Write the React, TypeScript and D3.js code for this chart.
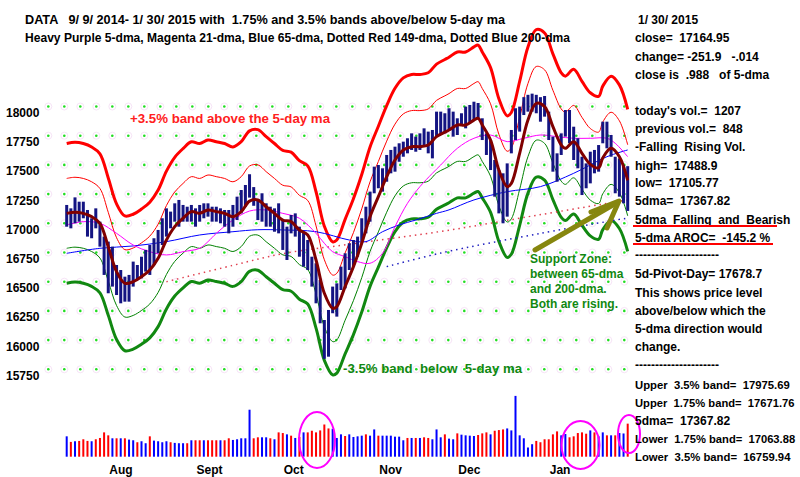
import React from 'react';
import * as d3 from 'd3';

// Daily high / low of the DJIA, 18 Jul 2014 .. 30 Jan 2015 (136 trading days)
const highs = [
  17157, 17128, 17222, 17185, 17185, 17114, 17043, 17128, 17014, 16886,
  16843, 16800, 16643, 16600, 16543, 16558, 16672, 16643, 16714, 16772,
  16814, 16872, 16943, 17043, 17128, 17100, 17171, 17200, 17157, 17142,
  17157, 17128, 17157, 17171, 17171, 17142, 17142, 17128, 17114, 17114,
  17157, 17228, 17285, 17328, 17420, 17310, 17200, 17257, 17171, 17142,
  17128, 17171, 17028, 16971, 17071, 17085, 16971, 16928, 16857, 16714,
  16658, 16515, 16172, 16258, 16458, 16486, 16629, 16743, 16829, 16857,
  16886, 17043, 17142, 17271, 17485, 17499, 17471, 17585, 17628, 17656,
  17685, 17699, 17728, 17770, 17742, 17770, 17813, 17785, 17799, 17956,
  17956, 17942, 17985, 17956, 17899, 17942, 17999, 18013, 18041, 18030,
  17899, 17770, 17713, 17542, 17456, 17428, 17513, 17799, 17985, 17999,
  18080, 18100, 18110, 18100, 18080, 18090, 17956, 17742, 17599, 17770,
  17970, 17970, 17827, 17728, 17570, 17513, 17613, 17628, 17670, 17870,
  17870, 17756, 17570, 17556, 17499, 17489,
];
const lows = [
  16971, 16957, 17000, 17014, 17043, 16886, 16872, 16957, 16800, 16558,
  16401, 16458, 16386, 16315, 16329, 16329, 16458, 16515, 16529, 16586,
  16558, 16643, 16743, 16814, 16886, 16957, 17014, 16971, 17014, 17014,
  17014, 16971, 17014, 17043, 17057, 17014, 17014, 17000, 16971, 16914,
  16971, 17028, 17085, 17142, 17220, 17150, 17028, 17014, 16971, 16971,
  16928, 16914, 16772, 16686, 16914, 16886, 16714, 16629, 16600, 16458,
  16315, 16144, 15840, 15858, 16230, 16201, 16429, 16443, 16600, 16629,
  16714, 16843, 16914, 17014, 17257, 17300, 17271, 17356, 17428, 17442,
  17527, 17570, 17599, 17628, 17613, 17628, 17656, 17599, 17556, 17742,
  17756, 17770, 17799, 17742, 17756, 17842, 17813, 17856, 17884, 17890,
  17713, 17585, 17456, 17228, 17085, 17000, 17057, 17599, 17713, 17785,
  17927, 17956, 17956, 17942, 17870, 17913, 17713, 17442, 17356, 17585,
  17742, 17685, 17542, 17471, 17242, 17300, 17342, 17428, 17442, 17685,
  17642, 17570, 17257, 17228, 17171, 17106,
];

// volume (thousands of lots), and bar colour r = red, b = blue
const volumes = [
  744, 540, 564, 576, 636, 576, 564, 636, 684, 888,
  780, 672, 672, 672, 672, 624, 600, 528, 564, 492,
  744, 588, 564, 528, 564, 528, 504, 492, 492, 492,
  600, 600, 600, 600, 600, 600, 600, 600, 600, 672,
  612, 636, 672, 672, 1716, 672, 708, 708, 708, 672,
  636, 888, 864, 816, 768, 684, 720, 888, 888, 948,
  888, 960, 1176, 1032, 1020, 684, 816, 756, 816, 720,
  744, 768, 816, 768, 996, 768, 768, 768, 768, 732,
  732, 600, 684, 684, 684, 684, 708, 684, 636, 996,
  708, 816, 660, 636, 852, 804, 780, 768, 756, 792,
  852, 888, 816, 948, 972, 996, 1032, 960, 2220, 780,
  672, 336, 456, 576, 528, 636, 636, 816, 924, 780,
  828, 708, 744, 864, 888, 840, 960, 888, 744, 888,
  780, 780, 780, 864, 848, 1207,
];
const volColors = (
  'brbrrrbrrr' + 'rbrbrbbrbb' + 'rbbbbrbbbr' + 'brrbrrrbrr' + 'bbbbbrrbbr' +
  'brrbrbrbrr' + 'rrrrbbbrbb' + 'bbrbbrbbbb' + 'bbrbrbrrbb' + 'brbbrbbbbr' +
  'rrbrrrbbbb' + 'bbbrrrrrrb' + 'brrrrrbrbb' + 'rbrbbr'
).split('');

// moving averages, [day index, value]
const ma5: [number, number][] = [
  [0, 17085], [2, 17095], [4, 17085], [6, 17057], [8, 17000], [10, 16800],
  [12, 16586], [14, 16486], [16, 16500], [18, 16543], [20, 16600], [22, 16700],
  [24, 16857], [26, 16971], [28, 17043], [30, 17100], [32, 17085], [34, 17114],
  [36, 17100], [38, 17085], [40, 17057], [42, 17100], [44, 17190], [46, 17200],
  [48, 17142], [50, 17085], [52, 17028], [54, 17014], [56, 16943], [58, 16900],
  [60, 16686], [62, 16401], [64, 16272], [65, 16287], [67, 16458], [69, 16629],
  [71, 16829], [73, 17057], [75, 17228], [77, 17399], [79, 17542], [81, 17628],
  [83, 17656], [85, 17656], [87, 17670], [89, 17742], [91, 17780], [92, 17799],
  [94, 17842], [96, 17842], [98, 17884], [99, 17899], [100, 17842], [102, 17713],
  [104, 17456], [106, 17314], [107, 17342], [109, 17599], [111, 17884], [113, 18027],
  [115, 17999], [117, 17827], [119, 17670], [120, 17642], [122, 17699], [124, 17599],
  [126, 17505], [128, 17475], [129, 17560], [131, 17642], [133, 17570], [135, 17368],
];
const ma21: [number, number][] = [
  [0, 16986], [4, 17014], [8, 17000], [12, 16914], [16, 16814], [20, 16757],
  [24, 16729], [28, 16757], [32, 16786], [34, 16843], [36, 16914], [40, 17028],
  [44, 17105], [48, 17114], [52, 17085], [56, 17043], [60, 16914], [62, 16829],
  [64, 16757], [67, 16714], [70, 16672], [73, 16658], [76, 16743], [79, 16971],
  [82, 17171], [85, 17314], [88, 17428], [90, 17499], [94, 17642], [98, 17728],
  [102, 17756], [106, 17699], [110, 17728], [114, 17756], [118, 17742], [122, 17728],
  [126, 17728], [130, 17728], [132, 17685], [135, 17570],
];
const ma65: [number, number][] = [
  [0, 16743], [8, 16786], [16, 16806], [24, 16843], [32, 16900], [40, 16928],
  [46, 16945], [52, 16943], [60, 16928], [68, 16857], [72, 16843], [76, 16928],
  [80, 16986], [84, 17028], [89, 17085], [92, 17115], [98, 17200], [106, 17271],
  [114, 17314], [122, 17428], [130, 17570], [135, 17628],
];
const ma149: [number, number][] = [
  [24, 16500], [40, 16640], [52, 16740], [70, 16830], [90, 16930], [110, 17050], [135, 17200],
];
const ma200: [number, number][] = [
  [77, 16629], [90, 16745], [114, 16914], [135, 17045],
];

const priceTicks = [18000, 17750, 17500, 17250, 17000, 16750, 16500, 16250, 16000, 15750];
const months = [
  { label: 'Aug', day: 10 },
  { label: 'Sept', day: 31 },
  { label: 'Oct', day: 52 },
  { label: 'Nov', day: 75 },
  { label: 'Dec', day: 94 },
  { label: 'Jan', day: 116 },
];

// size: smaller font for the long band lines so they stay inside the picture
const infoLines = [
  { t: 'change= -251.9   -.014', y: 60.5 },
  { t: 'close is  .988   of 5-dma', y: 78.5 },
  { t: "today's vol.=  1207", y: 115 },
  { t: 'previous vol.=  848', y: 133 },
  { t: '-Falling  Rising Vol.', y: 151 },
  { t: 'high=  17488.9', y: 169.5 },
  { t: 'low=  17105.77', y: 187 },
  { t: '5dma=  17367.82', y: 205 },
  { t: '5dma  Falling  and  Bearish', y: 224 },
  { t: '5-dma AROC=  -145.2 %', y: 242 },
  { t: '---------------------', y: 258.5 },
  { t: '5d-Pivot-Day= 17678.7', y: 278 },
  { t: 'This shows price level', y: 297 },
  { t: 'above/below which the', y: 315 },
  { t: '5-dma direction would', y: 333 },
  { t: 'change.', y: 351 },
  { t: '---------------------', y: 368.5 },
  { t: 'Upper  3.5% band=  17975.69', y: 388.5, size: 11.3 },
  { t: 'Upper  1.75% band=  17671.76', y: 407, size: 11.2 },
  { t: '5dma=  17367.82', y: 424.5 },
  { t: 'Lower  1.75% band=  17063.88', y: 443, size: 11.2 },
  { t: 'Lower  3.5% band=  16759.94', y: 461, size: 11.3 },
];

const supportLines = ['Support Zone:', 'between 65-dma', 'and 200-dma.', 'Both are rising.'];

const W = 800;
const H = 477;
const FONT = '"Liberation Sans", Arial, sans-serif';

export default function App() {
  const x = d3.scaleLinear().domain([0, 135]).range([66.7, 627.7]);
  const y = d3.scaleLinear().domain([15750, 18000]).range([369.3, 106.5]);
  const yVol = d3.scaleLinear().domain([0, 2220]).range([456.7, 395.9]);

  const line = d3
    .line<[number, number]>()
    .x((d) => x(d[0]))
    .y((d) => y(d[1]))
    .curve(d3.curveCatmullRom.alpha(0.5));

  const band = (k: number) => ma5.map(([d, v]) => [d, v * k] as [number, number]);

  const dotXs = d3.range(48.3, 626, 16);

  const txt = { fontFamily: FONT, fontWeight: 700, fontSize: 12, whiteSpace: 'pre' as const };

  return (
    <svg
      width={W}
      height={H}
      style={{ position: 'absolute', left: 0, top: 0, background: '#fff' }}
    >
      <rect width={W} height={H} fill="#fff" />

      {/* dotted grid */}
      {priceTicks.map((t) => (
        <g key={t}>
          {dotXs.map((dx) => (
            <g key={dx}>
              <circle cx={dx} cy={y(t)} r={3.5} fill="none" stroke="#f7e4f7" strokeWidth={1} />
              <circle cx={dx} cy={y(t)} r={1.3} fill="#22dd22" />
            </g>
          ))}
          <text x={6} y={y(t) + 10.5} style={txt} fill="#000">
            {t}
          </text>
        </g>
      ))}

      {/* bands and moving averages */}
      <path d={line(band(1.035)) || ''} fill="none" stroke="#ff0000" strokeWidth={3} />
      <path d={line(band(1.0175)) || ''} fill="none" stroke="#ff0000" strokeWidth={1} />
      <path d={line(band(0.9825)) || ''} fill="none" stroke="#008000" strokeWidth={1} />
      <path d={line(band(0.965)) || ''} fill="none" stroke="#118811" strokeWidth={3} />
      <path d={line(ma149) || ''} fill="none" stroke="#e04050" strokeWidth={1.5} strokeDasharray="1.5 4" />
      <path d={line(ma200) || ''} fill="none" stroke="#2020c0" strokeWidth={1.5} strokeDasharray="1.5 4" />
      <path d={line(ma65) || ''} fill="none" stroke="#0000ff" strokeWidth={1} />
      <path d={line(ma21) || ''} fill="none" stroke="#ff00ff" strokeWidth={1} />

      {/* high-low bars */}
      {highs.map((h, i) => (
        <rect
          key={i}
          x={x(i) - 1.5}
          y={y(h)}
          width={3}
          height={Math.max(1, y(lows[i]) - y(h))}
          fill="#141482"
        />
      ))}

      <path d={line(ma5) || ''} fill="none" stroke="#800000" strokeWidth={3} />

      {/* volume */}
      {volumes.map((v, i) => (
        <rect
          key={i}
          x={x(i) - 1}
          y={yVol(v)}
          width={2}
          height={yVol(0) - yVol(v)}
          fill={volColors[i] === 'r' ? '#ff0000' : '#0000ff'}
        />
      ))}

      {months.map((m) => (
        <text key={m.label} x={x(m.day) + 1} y={473.5} style={txt} fill="#000">
          {m.label}
        </text>
      ))}

      {/* highlight ellipses */}
      <ellipse cx={317} cy={440} rx={18} ry={28} fill="none" stroke="#ff00ff" strokeWidth={2} />
      <ellipse cx={580.5} cy={445} rx={19} ry={24} fill="none" stroke="#ff00ff" strokeWidth={2} />
      <ellipse cx={629} cy={434} rx={11} ry={19} fill="none" stroke="#ff00ff" strokeWidth={2} />

      {/* annotations */}
      <text x={130} y={122.5} style={{ ...txt, fontSize: 13 }} fill="#ff2020" textLength={200} lengthAdjust="spacingAndGlyphs">
        +3.5% band above the 5-day ma
      </text>
      <text x={343} y={372.5} style={{ ...txt, fontSize: 13 }} fill="#118811" textLength={179} lengthAdjust="spacingAndGlyphs">
        -3.5% band  below  5-day ma
      </text>
      {supportLines.map((s, i) => (
        <text key={s} x={530} y={263 + i * 15} style={txt} fill="#118811">
          {s}
        </text>
      ))}
      <g stroke="#86860e" strokeWidth={5} strokeLinecap="round" fill="none">
        <line x1={535} y1={250} x2={618} y2={202} />
        <polyline points="591,212 619,201 607,228" strokeLinejoin="round" />
      </g>

      {/* header */}
      <text x={25} y={23.5} style={txt} fill="#000" textLength={480} lengthAdjust="spacingAndGlyphs">
        DATA   9/ 9/ 2014- 1/ 30/ 2015 with  1.75% and 3.5% bands above/below 5-day ma
      </text>
      <text x={25} y={41.5} style={txt} fill="#000" textLength={545} lengthAdjust="spacingAndGlyphs">
        Heavy Purple 5-dma, Magenta 21-dma, Blue 65-dma, Dotted Red 149-dma, Dotted Blue 200-dma
      </text>
      <text x={638} y={23.5} style={txt} fill="#000">
        1/ 30/ 2015
      </text>
      <text x={635} y={41.5} style={txt} fill="#000">
        close=  17164.95
      </text>

      {/* right info panel */}
      {infoLines.map((l, i) => (
        <text
          key={i}
          x={635}
          y={l.y}
          style={{ ...txt, fontSize: l.size ?? 12 }}
          fill="#000"
        >
          {l.t}
        </text>
      ))}
      <line x1={633} x2={777} y1={226} y2={226} stroke="#ff0000" strokeWidth={2} />
      <line x1={633} x2={773} y1={244} y2={244} stroke="#ff0000" strokeWidth={2} />
    </svg>
  );
}
